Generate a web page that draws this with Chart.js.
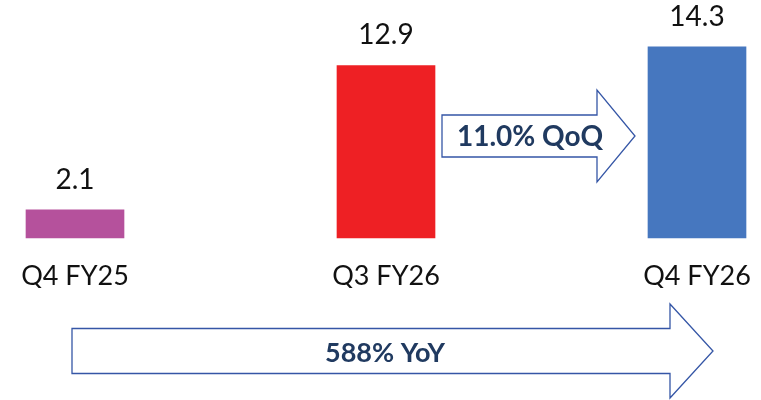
<!DOCTYPE html>
<html>
<head>
<meta charset="utf-8">
<script src="https://cdn.jsdelivr.net/npm/chart.js@4.4.1/dist/chart.umd.min.js"></script>
<style>
  html, body { margin: 0; padding: 0; background: #ffffff; }
  #wrap { width: 761px; height: 400px; position: relative; }
</style>
</head>
<body>
<div id="wrap"><canvas id="revenue-chart"></canvas></div>
<script>
const categories = ['Q4 FY25', 'Q3 FY26', 'Q4 FY26'];
const revenue = [2.1, 12.9, 14.3];
const valueLabels = ['2.1', '12.9', '14.3'];
const barColors = ['#B5519C', '#EE2024', '#4677BF'];
const qoqNote = '11.0% QoQ';
const yoyNote = '588% YoY';

const FONT = 'Lato, "Open Sans", sans-serif';

function drawArrow(ctx, left, tip, cy, bodyHalf, headHalf, headLen) {
    const neck = tip - headLen;
    ctx.beginPath();
    ctx.moveTo(left, cy - bodyHalf);
    ctx.lineTo(neck, cy - bodyHalf);
    ctx.lineTo(neck, cy - headHalf);
    ctx.lineTo(tip, cy);
    ctx.lineTo(neck, cy + headHalf);
    ctx.lineTo(neck, cy + bodyHalf);
    ctx.lineTo(left, cy + bodyHalf);
    ctx.closePath();
    ctx.fillStyle = '#ffffff';
    ctx.fill();
    ctx.strokeStyle = '#3556A6';
    ctx.lineWidth = 1.3;
    ctx.stroke();
}

const annotations = {
    id: 'annotations',
    afterDatasetsDraw(chart) {
        const ctx = chart.ctx;
        const bars = chart.getDatasetMeta(0).data;
        ctx.save();
        ctx.textAlign = 'center';
        ctx.textBaseline = 'middle';

        // value labels above bars
        ctx.fillStyle = '#111111';
        ctx.font = '28px ' + FONT;
        bars.forEach((bar, i) => {
            ctx.fillText(valueLabels[i], bar.x, bar.y - 30);
        });

        // QoQ arrow between the last two bars
        const b2 = bars[1], b3 = bars[2];
        const qLeft = b2.x + b2.width / 2 + 7;
        const qTip = b3.x - b3.width / 2 - 13;
        drawArrow(ctx, qLeft, qTip, 136, 21, 46, 38);
        ctx.fillStyle = '#203A60';
        ctx.font = 'bold 28px ' + FONT;
        ctx.fillText(qoqNote, 530, 137);

        // YoY arrow along the bottom
        drawArrow(ctx, 72, 713, 351, 22.5, 47, 43);
        ctx.fillStyle = '#203A60';
        ctx.font = 'bold 27px ' + FONT;
        ctx.fillText(yoyNote, 385, 353);

        ctx.restore();
    }
};

new Chart(document.getElementById('revenue-chart'), {
    type: 'bar',
    data: {
        labels: categories,
        datasets: [{
            data: revenue,
            backgroundColor: barColors,
            borderWidth: 0,
            barThickness: 98,
            clip: false
        }]
    },
    options: {
        responsive: true,
        maintainAspectRatio: false,
        animation: false,
        events: [],
        layout: { padding: { left: 75, right: 64, top: 24, bottom: 112 } },
        plugins: {
            legend: { display: false },
            tooltip: { enabled: false }
        },
        scales: {
            x: {
                offset: false,
                grid: { display: false, drawTicks: false },
                border: { display: false },
                ticks: { color: '#111111', font: { family: FONT, size: 27 }, padding: 22 },
                afterFit: s => {
                    s.height = 50;
                    s.paddingLeft = 0;
                    s.paddingRight = 0;
                }
            },
            y: {
                display: false,
                min: 0,
                max: 16
            }
        }
    },
    plugins: [annotations]
});
</script>
</body>
</html>
